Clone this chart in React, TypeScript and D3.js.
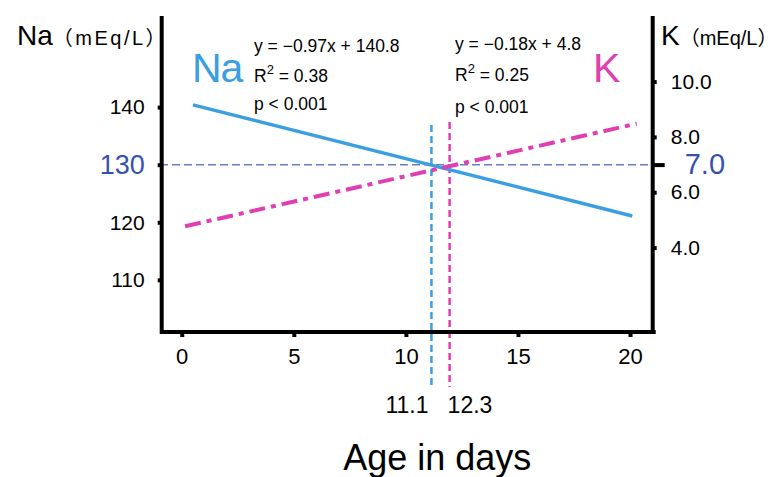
import React, { useEffect, useRef } from 'react';
import * as d3 from 'd3';

// regression lines: [day, value]
const naLine: [number, number][] = [[0.5, 140.4], [20.1, 121.1]];
const kLine: [number, number][] = [[0.15, 4.77], [20.3, 8.48]];

const xTicks = [0, 5, 10, 15, 20];
const naTicks = [110, 120, 130, 140];
const kTicks = [4, 6, 7, 8, 10];

// crossing points with the 130 / 7.0 reference
const crossDays = [11.14, 11.95];
const crossLabels = ['11.1', '12.3'];
const crossTops = [136.9, 137.4];

const naStats = ['y = \u22120.97x + 140.8', '0.38', 'p < 0.001'];
const kStats = ['y = \u22120.18x + 4.8', '0.25', 'p < 0.001'];

const NA_REF = 130;
const K_REF = 7;

const BLUE = '#3a9fe0';
const PINK = '#e03fb1';
const NAVY = '#3552b0';
const FONT = '"Liberation Sans", Arial, "Noto Sans CJK JP", sans-serif';

const App = () => {
  const svgRef = useRef<SVGSVGElement>(null);

  useEffect(() => {
    const width = 779;
    const height = 477;
    const svg = d3.select(svgRef.current);
    svg.selectAll('*').remove();
    svg.attr('width', width).attr('height', height).style('font-family', FONT);

    const x = d3.scaleLinear().domain([-0.97, 21.1]).range([160, 654.7]);
    const yNa = d3.scaleLinear().domain([100.94, 155.83]).range([332, 16]);
    const yK = d3.scaleLinear().domain([0.95, 12.37]).range([332, 16]);

    const [x0, x1] = x.range();
    const [yb, yt] = yNa.range();

    // reference line at 130 / 7.0
    svg.append('line')
      .attr('x1', x0).attr('x2', x1)
      .attr('y1', yNa(NA_REF)).attr('y2', yNa(NA_REF))
      .attr('stroke', '#6a7cc2')
      .attr('stroke-width', 1.5)
      .attr('stroke-dasharray', '8,4');

    // vertical dashed crossing lines
    const crossColors = [BLUE, PINK];
    crossDays.forEach((d, i) => {
      svg.append('line')
        .attr('x1', x(d)).attr('x2', x(d))
        .attr('y1', yNa(crossTops[i])).attr('y2', yNa(91.4))
        .attr('stroke', crossColors[i])
        .attr('stroke-width', 2.5)
        .attr('stroke-dasharray', '7,4');
    });

    const line = (ys: d3.ScaleLinear<number, number>) =>
      d3.line<[number, number]>().x(d => x(d[0])).y(d => ys(d[1]));

    svg.append('path')
      .attr('d', line(yNa)(naLine))
      .attr('fill', 'none')
      .attr('stroke', BLUE)
      .attr('stroke-width', 3.5);

    svg.append('path')
      .attr('d', line(yK)(kLine))
      .attr('fill', 'none')
      .attr('stroke', PINK)
      .attr('stroke-width', 4)
      .attr('stroke-dasharray', '16,6,5,6');

    // frame: left, right, bottom
    const frame = svg.append('g').attr('stroke', '#000').attr('stroke-width', 4);
    frame.append('line').attr('x1', 161.7).attr('x2', 161.7).attr('y1', yt).attr('y2', yb + 2);
    frame.append('line').attr('x1', 652.7).attr('x2', 652.7).attr('y1', yt).attr('y2', yb + 2);
    frame.append('line').attr('x1', x0).attr('x2', x1 + 1).attr('y1', yb).attr('y2', yb);

    // left axis
    const left = svg.append('g')
      .attr('transform', 'translate(161.7,0)')
      .call(d3.axisLeft(yNa).tickValues(naTicks).tickSize(4).tickPadding(13));
    left.select('.domain').remove();
    left.selectAll('line').attr('stroke', '#000').attr('stroke-width', 4);
    left.selectAll('text')
      .style('font-family', FONT)
      .style('font-size', (d: any) => (d === NA_REF ? '27px' : '21px'))
      .attr('fill', (d: any) => (d === NA_REF ? NAVY : '#000'));

    // right axis
    const right = svg.append('g')
      .attr('transform', 'translate(652.7,0)')
      .call(d3.axisRight(yK).tickValues(kTicks).tickSize(4).tickPadding(14).tickFormat(d3.format('.1f')));
    right.select('.domain').remove();
    right.selectAll('line')
      .attr('stroke', '#000')
      .attr('stroke-width', 4)
      .attr('x2', (d: any) => (d === K_REF ? 12 : 4));
    right.selectAll('text')
      .style('font-family', FONT)
      .style('font-size', (d: any) => (d === K_REF ? '29px' : '21px'))
      .attr('fill', (d: any) => (d === K_REF ? NAVY : '#000'))
      .attr('x', (d: any) => (d === K_REF ? 32 : 18));

    // bottom axis
    const bottom = svg.append('g')
      .attr('transform', `translate(0,${yb})`)
      .call(d3.axisBottom(x).tickValues(xTicks).tickSize(5).tickPadding(11));
    bottom.select('.domain').remove();
    bottom.selectAll('line').attr('stroke', '#000').attr('stroke-width', 4);
    bottom.selectAll('text').style('font-family', FONT).style('font-size', '22px').attr('fill', '#000');

    // crossing labels
    crossDays.forEach((d, i) => {
      svg.append('text')
        .attr('x', i === 0 ? x(d) - 3 : x(d) - 2)
        .attr('y', 413)
        .attr('text-anchor', i === 0 ? 'end' : 'start')
        .style('font-size', '23px')
        .text(crossLabels[i]);
    });

    svg.append('text')
      .attr('x', x(11.4))
      .attr('y', 470)
      .attr('text-anchor', 'middle')
      .style('font-size', '36px')
      .text('Age in days');

    // axis titles
    const title = (tx: number, main: string, spacing: number) => {
      const t = svg.append('text').attr('x', tx).attr('y', 45);
      t.append('tspan').style('font-size', '28px').text(main);
      t.append('tspan').style('font-size', '20px').style('letter-spacing', `${spacing}px`).text('\uff08mEq/L\uff09');
    };
    title(17, 'Na', 2.5);
    title(661, 'K', 0);

    // series labels
    svg.append('text')
      .attr('x', 192).attr('y', 82)
      .attr('fill', BLUE)
      .style('font-size', '41px')
      .style('letter-spacing', '-1px')
      .text('Na');
    svg.append('text')
      .attr('x', 593).attr('y', 82)
      .attr('fill', PINK)
      .style('font-size', '41px')
      .text('K');

    // regression stats
    const stats = (tx: number, lines: string[], ys: number[]) => {
      const g = svg.append('g').style('font-size', '17.5px');
      g.append('text').attr('x', tx).attr('y', ys[0]).text(lines[0]);
      const r = g.append('text').attr('x', tx).attr('y', ys[1]);
      r.append('tspan').text('R');
      r.append('tspan').attr('dy', -8).style('font-size', '13px').text('2');
      r.append('tspan').attr('dy', 8).text(' = ' + lines[1]);
      g.append('text').attr('x', tx).attr('y', ys[2]).text(lines[2]);
    };
    stats(254, naStats, [52, 82, 110]);
    stats(455, kStats, [50, 81, 113]);
  }, []);

  return (
    <svg ref={svgRef} style={{ position: 'absolute', left: 0, top: 0, display: 'block', background: '#fff' }} />
  );
};

export default App;
